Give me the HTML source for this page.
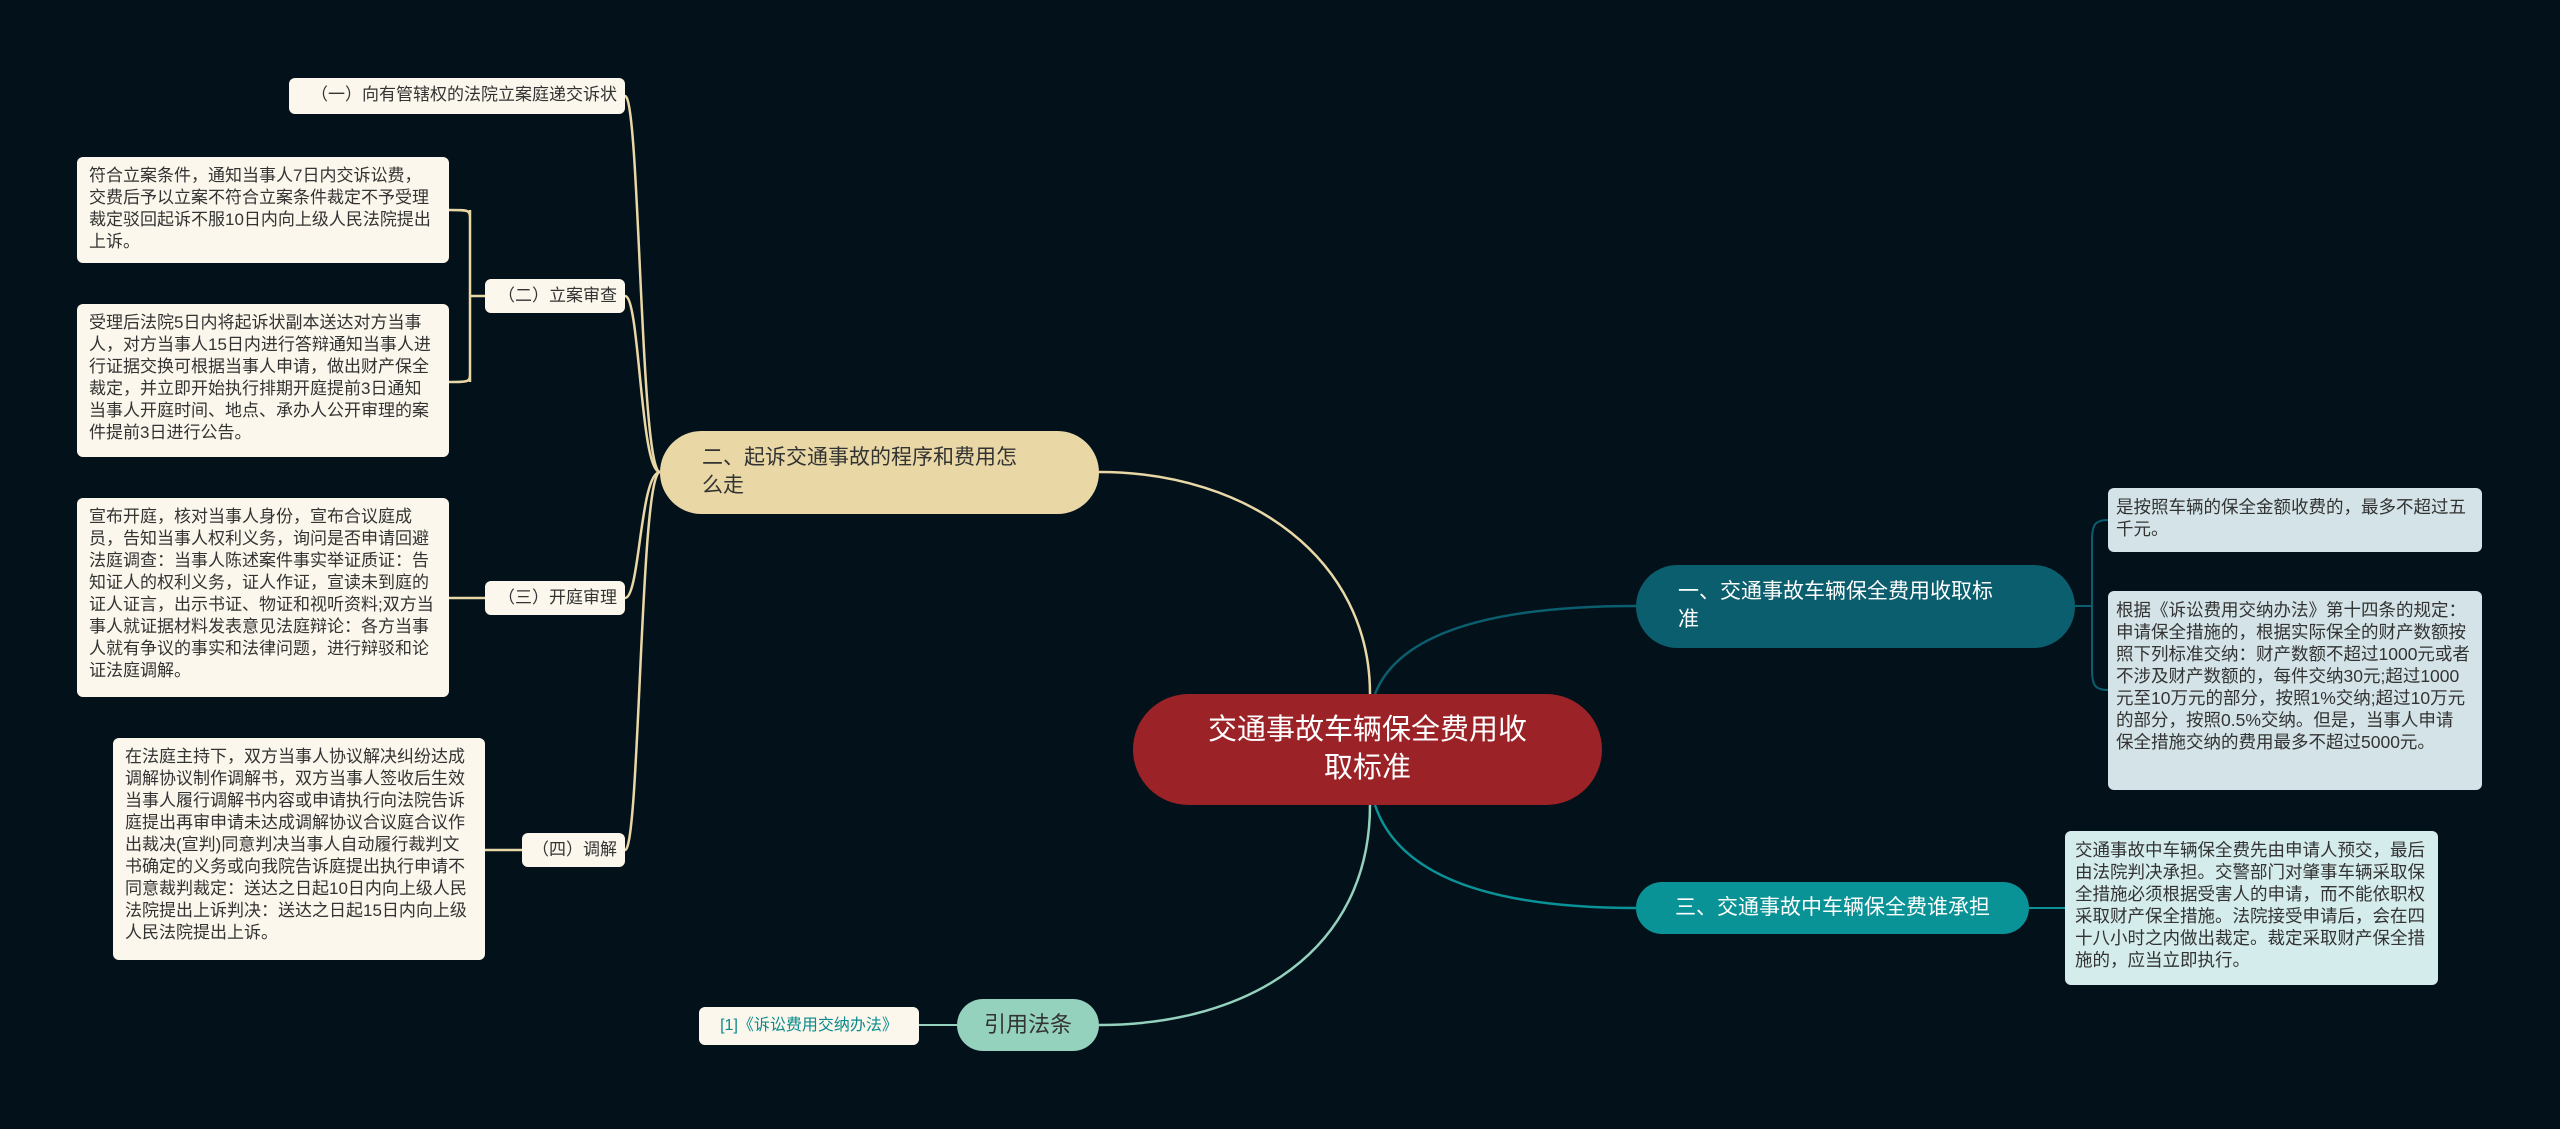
<!DOCTYPE html>
<html><head><meta charset="utf-8"><style>
body{margin:0;width:2560px;height:1129px;background:#03111a;overflow:hidden;position:relative;font-family:"Liberation Sans","Noto Sans CJK SC",sans-serif}
.n{position:absolute;box-sizing:border-box}
.leaf{background:#fbf7ec;color:#333;border-radius:6px;font-size:17px;line-height:22px;padding:8px 12px}
.sub{background:#fbf7ec;color:#333;border-radius:6px;font-size:17px;line-height:34px;text-align:right;padding:0 8px;white-space:nowrap}
.bl{background:#d3e3e7;color:#333;border-radius:6px;font-size:17.5px;line-height:22px;padding:8px 12px 8px 8px}
.cy{background:#d5ecec;color:#333;border-radius:6px;font-size:17.5px;line-height:22px;padding:8px 10px}
svg{position:absolute;left:0;top:0}
</style></head><body>
<svg width="2560" height="1129" fill="none">
<g stroke="#e9d8a6" stroke-width="2.5">
<path d="M1370 694 C1370 560 1250 472 1099 472"/>
<path d="M660 472 C640 472 640 96 625 96"/>
<path d="M660 472 C640 472 640 296 625 296"/>
<path d="M660 472 C640 472 640 598 625 598"/>
<path d="M660 472 C640 472 640 850 625 850"/>
<path d="M485 296 L470 296 M449 210 C470 210 470 210 470 220 L470 372 C470 382 470 382 449 382 M470 210 L470 382"/>
<path d="M485 598 L449 598"/>
<path d="M522 850 L485 850"/>
</g>
<path d="M1370 805 C1370 950 1250 1025 1099 1025" stroke="#94d2bd" stroke-width="2.5"/>
<path d="M957 1025 L919 1025" stroke="#94d2bd" stroke-width="2"/>
<path d="M1375 694 C1400 630 1500 606 1636 606" stroke="#0b5e6e" stroke-width="2.5"/>
<path d="M1375 805 C1400 880 1500 908 1636 908" stroke="#0a9396" stroke-width="2.5"/>
<g stroke="#0b5e6e" stroke-width="2">
<path d="M2075 606 L2092 606 M2108 520 C2095 520 2092 525 2092 540 L2092 670 C2092 685 2095 690 2108 690"/>
</g>
<path d="M2029 908 L2065 908" stroke="#0a9396" stroke-width="2"/>
</svg>

<div class="n" style="left:1133px;top:694px;width:469px;height:111px;background:#9b2226;border-radius:56px;color:#fff;font-size:29px;line-height:38px;text-align:center;padding-top:17px">交通事故车辆保全费用收<br>取标准</div>
<div class="n" style="left:660px;top:431px;width:439px;height:83px;background:#e9d8a6;border-radius:42px;color:#333;font-size:21px;line-height:28px;padding:13px 0 0 42px">二、起诉交通事故的程序和费用怎<br>么走</div>
<div class="n" style="left:957px;top:999px;width:142px;height:52px;background:#94d2bd;border-radius:26px;color:#333;font-size:22px;line-height:52px;text-align:center">引用法条</div>
<div class="n" style="left:699px;top:1007px;width:220px;height:38px;background:#fbf7ec;border-radius:6px;color:#0a8a8c;font-size:16px;line-height:38px;text-align:center">[1]《诉讼费用交纳办法》</div>
<div class="n" style="left:1636px;top:565px;width:439px;height:83px;background:#0b5e6e;border-radius:42px;color:#fff;font-size:21px;line-height:28px;padding:13px 0 0 42px">一、交通事故车辆保全费用收取标<br>准</div>
<div class="n" style="left:1636px;top:882px;width:393px;height:52px;background:#0a9396;border-radius:26px;color:#fff;font-size:21px;line-height:52px;text-align:center">三、交通事故中车辆保全费谁承担</div>

<div class="n bl" style="left:2108px;top:488px;width:374px;height:64px">是按照车辆的保全金额收费的，最多不超过五千元。</div>
<div class="n bl" style="left:2108px;top:591px;width:374px;height:199px">根据《诉讼费用交纳办法》第十四条的规定：申请保全措施的，根据实际保全的财产数额按照下列标准交纳：财产数额不超过1000元或者不涉及财产数额的，每件交纳30元;超过1000元至10万元的部分，按照1%交纳;超过10万元的部分，按照0.5%交纳。但是，当事人申请保全措施交纳的费用最多不超过5000元。</div>
<div class="n cy" style="left:2065px;top:831px;width:373px;height:154px">交通事故中车辆保全费先由申请人预交，最后由法院判决承担。交警部门对肇事车辆采取保全措施必须根据受害人的申请，而不能依职权采取财产保全措施。法院接受申请后，会在四十八小时之内做出裁定。裁定采取财产保全措施的，应当立即执行。</div>

<div class="n sub" style="left:289px;top:78px;width:336px;height:36px">（一）向有管辖权的法院立案庭递交诉状</div>
<div class="n sub" style="left:485px;top:279px;width:140px;height:34px">（二）立案审查</div>
<div class="n sub" style="left:485px;top:581px;width:140px;height:34px">（三）开庭审理</div>
<div class="n sub" style="left:522px;top:833px;width:103px;height:34px">（四）调解</div>
<div class="n leaf" style="left:77px;top:157px;width:372px;height:106px">符合立案条件，通知当事人7日内交诉讼费，交费后予以立案不符合立案条件裁定不予受理裁定驳回起诉不服10日内向上级人民法院提出上诉。</div>
<div class="n leaf" style="left:77px;top:304px;width:372px;height:153px">受理后法院5日内将起诉状副本送达对方当事人，对方当事人15日内进行答辩通知当事人进行证据交换可根据当事人申请，做出财产保全裁定，并立即开始执行排期开庭提前3日通知当事人开庭时间、地点、承办人公开审理的案件提前3日进行公告。</div>
<div class="n leaf" style="left:77px;top:498px;width:372px;height:199px">宣布开庭，核对当事人身份，宣布合议庭成员，告知当事人权利义务，询问是否申请回避法庭调查：当事人陈述案件事实举证质证：告知证人的权利义务，证人作证，宣读未到庭的证人证言，出示书证、物证和视听资料;双方当事人就证据材料发表意见法庭辩论：各方当事人就有争议的事实和法律问题，进行辩驳和论证法庭调解。</div>
<div class="n leaf" style="left:113px;top:738px;width:372px;height:222px">在法庭主持下，双方当事人协议解决纠纷达成调解协议制作调解书，双方当事人签收后生效当事人履行调解书内容或申请执行向法院告诉庭提出再审申请未达成调解协议合议庭合议作出裁决(宣判)同意判决当事人自动履行裁判文书确定的义务或向我院告诉庭提出执行申请不同意裁判裁定：送达之日起10日内向上级人民法院提出上诉判决：送达之日起15日内向上级人民法院提出上诉。</div>
</body></html>
